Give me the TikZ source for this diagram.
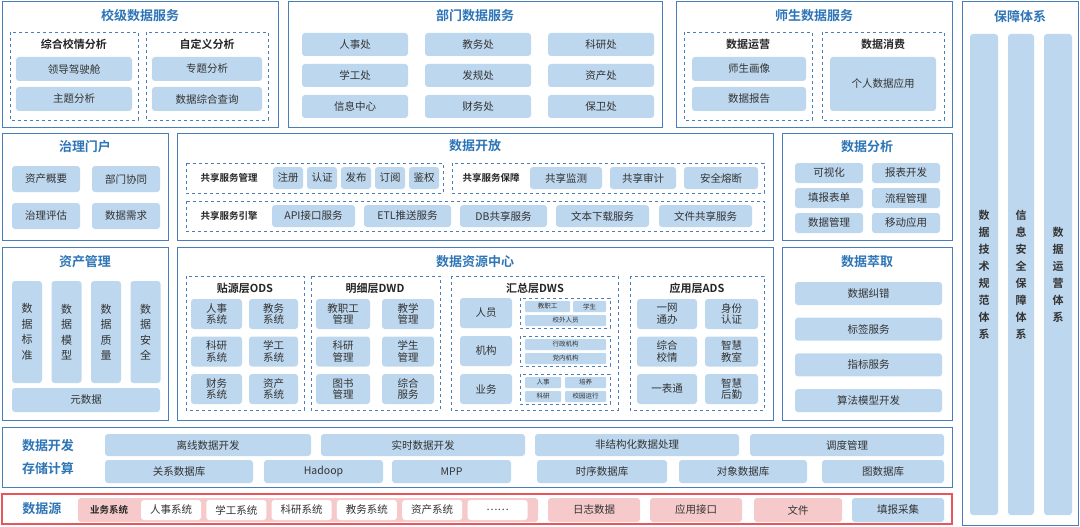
\documentclass[tikz,border=0pt]{standalone}
\usepackage{fontspec}
\setmainfont{Noto Sans CJK SC}[BoldFont={Noto Sans CJK SC Bold}]
\definecolor{lineblue}{HTML}{4A7EBB}
\definecolor{titleblue}{HTML}{2E75B6}
\definecolor{itemblue}{HTML}{BDD7EE}
\definecolor{srcred}{HTML}{E8555A}
\definecolor{srcpink}{HTML}{F6CACA}
\tikzset{
    panel/.style={draw=lineblue, line width=1pt},
    grp/.style={draw=lineblue, dashed, line width=0.8pt},
    itm/.style={fill=itemblue, rounded corners=3pt, inner sep=0pt, font=\fontsize{10.5}{12}\selectfont, text=black!80},
    wbox/.style={fill=white, rounded corners=3pt, inner sep=0pt, font=\fontsize{10.5}{12}\selectfont, text=black!80},
    pbox/.style={fill=srcpink, rounded corners=3pt, inner sep=0pt, font=\fontsize{10.5}{12}\selectfont, text=black!80},
    tiny/.style={itm, rounded corners=1pt, font=\fontsize{6.5}{7}\selectfont},
    ptitle/.style={font=\fontsize{13}{15}\selectfont\bfseries, text=titleblue},
    gtitle/.style={font=\fontsize{11}{13}\selectfont\bfseries, text=black!85},
}
% box from corner (x1,y1) to corner (x2,y2)
\newcommand{\bx}[7][itm]{%
    \pgfmathsetmacro{\bw}{#5-#3}\pgfmathsetmacro{\bh}{#6-#4}%
    \node[#1, minimum width=\bw pt, minimum height=\bh pt, align=center] (#2) at ({(#3+#5)/2},{(#4+#6)/2}) {#7};}
\begin{document}
\begin{tikzpicture}[x=1pt, y=-1pt]
    \useasboundingbox (0,0) rectangle (1080,527);

    % panels
    \foreach \nm/\xa/\ya/\xb/\yb in {
        pSchool/2/2/278/127, pDept/288/2/662/127, pPeople/676/2/952/127,
        pGov/2/133/168/240, pOpen/177/133/773/240, pAna/782/133/952/240,
        pAsset/2/247/168/420, pCenter/177/247/773/420, pExt/782/247/952/420,
        pDev/2/427/952/487, pGuard/962/2/1078/525}
    {
        \draw[panel] (\xa,\yb) rectangle (\xb,\ya) coordinate (\nm);
    }
    \draw[draw=srcred, line width=1.2pt] (2,494) rectangle (952,524);

    % panel titles
    \foreach \nm/\x/\y/\t in {
        tSchool/140/16/校级数据服务, tDept/475/16/部门数据服务, tPeople/814/16/师生数据服务,
        tGov/85/147/治理门户, tOpen/475/146/数据开放, tAna/867/147/数据分析,
        tAsset/85/262/资产管理, tCenter/475/262/数据资源中心, tExt/867/262/数据萃取,
        tGuard/1020/17/保障体系}
    {
        \node[ptitle] (\nm) at (\x,\y) {\t};
    }

    % school services
    \draw[grp] (10,32) rectangle (138,120);
    \draw[grp] (146,32) rectangle (268,120);
    \node[gtitle] (gZh) at (74,44) {综合校情分析};
    \node[gtitle] (gZdy) at (207,44) {自定义分析};
    \bx{sLd}{16}{57}{132}{81}{领导驾驶舱}
    \bx{sZt}{16}{87}{132}{111}{主题分析}
    \bx{sZtfx}{152}{57}{262}{81}{专题分析}
    \bx{sZhcx}{152}{87}{262}{111}{数据综合查询}

    % department services
    \foreach \t [count=\k from 0] in {人事处,教务处,科研处,学工处,发规处,资产处,信息中心,财务处,保卫处}
    {
        \pgfmathsetmacro{\cx}{int(mod(\k,3))}\pgfmathsetmacro{\ry}{int(\k/3)}
        \pgfmathsetmacro{\xa}{302+\cx*123}\pgfmathsetmacro{\ya}{33+\ry*31}
        \bx{d\k}{\xa}{\ya}{\xa+106}{\ya+23}{\t}
    }

    % teacher and student services
    \draw[grp] (684,32) rectangle (812,120);
    \draw[grp] (822,32) rectangle (944,120);
    \node[gtitle] (gYy) at (748,44) {数据运营};
    \node[gtitle] (gXf) at (883,44) {数据消费};
    \bx{pHx}{692}{57}{806}{81}{师生画像}
    \bx{pBg}{692}{87}{806}{111}{数据报告}
    \bx{pGr}{830}{57}{936}{111}{个人数据应用}

    % governance portal
    \bx{gA}{12}{166}{80}{192}{资产概要}
    \bx{gB}{92}{166}{160}{192}{部门协同}
    \bx{gC}{12}{203}{80}{229}{治理评估}
    \bx{gD}{92}{203}{160}{229}{数据需求}

    % data opening
    \draw[grp] (186,163) rectangle (443,193);
    \draw[grp] (452,163) rectangle (764,193);
    \draw[grp] (186,201) rectangle (764,231);
    \node[gtitle, font=\fontsize{9.5}{11}\selectfont\bfseries] (oGl) at (229,178) {共享服务管理};
    \node[gtitle, font=\fontsize{9.5}{11}\selectfont\bfseries] (oBz) at (491,178) {共享服务保障};
    \node[gtitle, font=\fontsize{9.5}{11}\selectfont\bfseries] (oYq) at (229,216) {共享服务引擎};
    \foreach \t [count=\k from 0] in {注册,认证,发布,订阅,鉴权}
    {
        \pgfmathsetmacro{\xa}{273+\k*34}
        \bx{om\k}{\xa}{167}{\xa+30}{189}{\t}
    }
    \bx{ob0}{530}{167}{602}{189}{共享监测}
    \bx{ob1}{610}{167}{676}{189}{共享审计}
    \bx{ob2}{684}{167}{758}{189}{安全熔断}
    \bx{oe0}{272}{205}{355}{227}{API接口服务}
    \bx{oe1}{364}{205}{451}{227}{ETL推送服务}
    \bx{oe2}{460}{205}{547}{227}{DB共享服务}
    \bx{oe3}{556}{205}{649}{227}{文本下载服务}
    \bx{oe4}{659}{205}{752}{227}{文件共享服务}

    % data analysis
    \foreach \t [count=\k from 0] in {可视化,报表开发,填报表单,流程管理,数据管理,移动应用}
    {
        \pgfmathsetmacro{\cx}{int(mod(\k,2))}\pgfmathsetmacro{\ry}{int(\k/2)}
        \pgfmathsetmacro{\xa}{795+\cx*77}\pgfmathsetmacro{\ya}{163+\ry*25}
        \bx{a\k}{\xa}{\ya}{\xa+68}{\ya+20}{\t}
    }

    % asset management
    \foreach \t [count=\k from 0] in {数\\据\\标\\准,数\\据\\模\\型,数\\据\\质\\量,数\\据\\安\\全}
    {
        \pgfmathsetmacro{\xa}{12+\k*39.5}
        \bx[itm, font=\fontsize{11}{15.5}\selectfont]{m\k}{\xa}{281}{\xa+30}{383}{\t}
    }
    \bx{mMeta}{12}{388}{160}{412}{元数据}

    % data resource center
    \draw[grp] (186,276) rectangle (304,410);
    \draw[grp] (311,276) rectangle (440,410);
    \draw[grp] (451,276) rectangle (618,410);
    \draw[grp] (630,276) rectangle (764,410);
    \node[gtitle] (gOds) at (245,288) {贴源层ODS};
    \node[gtitle] (gDwd) at (375,288) {明细层DWD};
    \node[gtitle] (gDws) at (535,288) {汇总层DWS};
    \node[gtitle] (gAds) at (697,288) {应用层ADS};
    \foreach \g/\xa/\xb/\xc/\xd/\lst in {
        ods/191/242/249/298/{人事\\系统,教务\\系统,科研\\系统,学工\\系统,财务\\系统,资产\\系统},
        dwd/316/370/382/434/{教职工\\管理,教学\\管理,科研\\管理,学生\\管理,图书\\管理,综合\\服务},
        ads/637/697/705/758/{一网\\通办,身份\\认证,综合\\校情,智慧\\教室,一表通,智慧\\后勤}}
    {
        \foreach \t [count=\k from 0] in \lst
        {
            \pgfmathsetmacro{\ry}{int(\k/2)}\pgfmathsetmacro{\ya}{299+\ry*37.5}
            \ifodd\k
                \bx[itm, font=\fontsize{10.5}{11.5}\selectfont]{\g\k}{\xc}{\ya}{\xd}{\ya+30}{\t}
            \else
                \bx[itm, font=\fontsize{10.5}{11.5}\selectfont]{\g\k}{\xa}{\ya}{\xb}{\ya+30}{\t}
            \fi
        }
    }
    \foreach \t [count=\k from 0] in {人员,机构,业务}
    {
        \pgfmathsetmacro{\ya}{298+\k*38}
        \bx{ws\k}{460}{\ya}{512}{\ya+30}{\t}
        \draw[grp, line width=0.6pt] (520,\ya) rectangle (610,\ya+30);
    }
    \bx[tiny]{wa}{525}{301}{570}{312}{教职工}
    \bx[tiny]{wb}{573}{301}{606}{312}{学生}
    \bx[tiny]{wc}{525}{315}{606}{326}{校外人员}
    \bx[tiny]{wd}{525}{339}{606}{350}{行政机构}
    \bx[tiny]{we}{525}{353}{606}{364}{党内机构}
    \bx[tiny]{wf}{525}{377}{561}{388}{人事}
    \bx[tiny]{wg}{565}{377}{606}{388}{培养}
    \bx[tiny]{wh}{525}{391}{561}{402}{科研}
    \bx[tiny]{wi}{565}{391}{606}{402}{校园运行}

    % data extraction
    \foreach \t [count=\k from 0] in {数据纠错,标签服务,指标服务,算法模型开发}
    {
        \pgfmathsetmacro{\ya}{282+\k*35.7}
        \bx{x\k}{795}{\ya}{942}{\ya+23}{\t}
    }

    % development and storage
    \node[ptitle] (vDev) at (48,446) {数据开发};
    \node[ptitle] (vSto) at (48,469) {存储计算};
    \bx{v0}{105}{434}{311}{456}{离线数据开发}
    \bx{v1}{321}{434}{525}{456}{实时数据开发}
    \bx{v2}{535}{434}{739}{456}{非结构化数据处理}
    \bx{v3}{750}{434}{944}{456}{调度管理}
    \bx{u0}{105}{460}{253}{483}{关系数据库}
    \bx{u1}{264}{460}{383}{483}{Hadoop}
    \bx{u2}{392}{460}{511}{483}{MPP}
    \bx{u3}{537}{460}{667}{483}{时序数据库}
    \bx{u4}{679}{460}{807}{483}{对象数据库}
    \bx{u5}{822}{460}{944}{483}{图数据库}

    % data sources
    \node[ptitle] (sSrc) at (42,509) {数据源};
    \bx[pbox]{sBiz}{78}{498}{538}{522}{}
    \node[gtitle, font=\fontsize{9.5}{11}\selectfont\bfseries] (sLbl) at (109,510) {业务系统};
    \foreach \t [count=\k from 0] in {人事系统,学工系统,科研系统,教务系统,资产系统}
    {
        \pgfmathsetmacro{\xa}{141+\k*65.3}
        \bx[wbox]{sw\k}{\xa}{500}{\xa+60}{520}{\t}
    }
    \bx[wbox]{swMore}{467.5}{500}{527.5}{520}{\ldots\ldots}
    \bx[pbox]{sLog}{548}{498}{640}{522}{日志数据}
    \bx[pbox]{sApi}{650}{498}{742}{522}{应用接口}
    \bx[pbox]{sFile}{754}{498}{842}{522}{文件}
    \bx[itm]{sFill}{852}{498}{944}{522}{填报采集}

    % guarantee system
    \foreach \t/\xa/\xb in {数\\据\\技\\术\\规\\范\\体\\系/970/998, 信\\息\\安\\全\\保\\障\\体\\系/1008/1034, 数\\据\\运\\营\\体\\系/1044/1072}
    {
        \bx[itm, font=\fontsize{11}{17}\selectfont\bfseries]{g\xa}{\xa}{34}{\xb}{515}{\t}
    }
\end{tikzpicture}
\end{document}
